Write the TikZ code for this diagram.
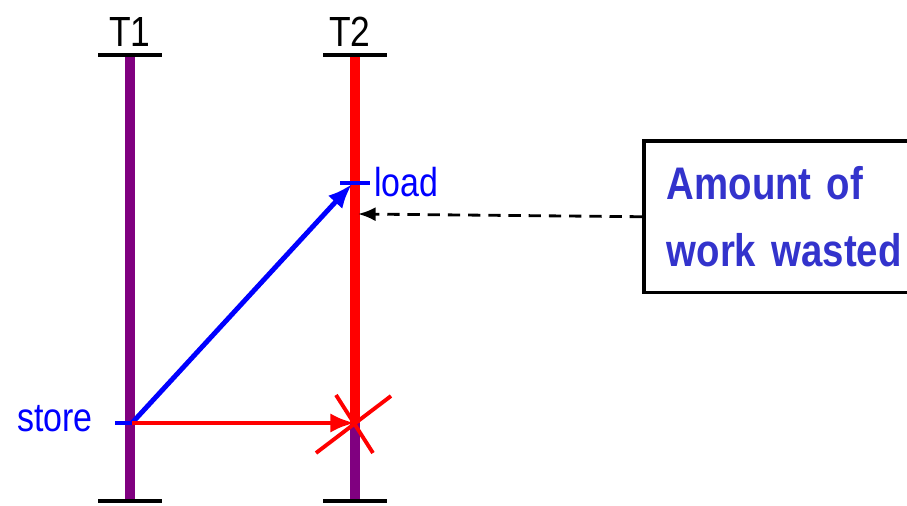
\documentclass[tikz,border=0pt]{standalone}
\usepackage{fontspec}
\setmainfont[FakeStretch=0.84]{Liberation Sans}
\usetikzlibrary{arrows.meta}
\definecolor{thrpurple}{HTML}{800080}
\definecolor{boxblue}{HTML}{3333CC}

\begin{document}
\begin{tikzpicture}[x=0.02cm,y=-0.02cm,>={Latex[length=14pt,width=11pt]},
  thread/.style={line width=5.4pt},
  bar/.style={line width=2.4pt,black},
  lbl/.style={font=\fontsize{23}{26}\selectfont,inner sep=0pt}]
  \useasboundingbox (0,0) rectangle (907,506);
  % threads
  \coordinate (t1top) at (130,55);  \coordinate (t1bot) at (130,501);
  \coordinate (t2top) at (355,55);  \coordinate (t2bot) at (355,501);
  \coordinate (t2cut) at (355,423);
  \draw[thread,thrpurple] (t1top) -- (t1bot);
  \draw[thread,thrpurple] (t2cut) -- (t2bot);
  \draw[thread,red] (t2top) -- (t2cut);
  \foreach \p in {t1top,t1bot,t2top,t2bot} \draw[bar] ([xshift=-0.64cm]\p) -- ([xshift=0.64cm]\p);
  \node[lbl,font=\fontsize{24}{28}\selectfont] (t1) at (130,32) {T1};
  \node[lbl,font=\fontsize{24}{28}\selectfont] (t2) at (350,32) {T2};
  % load / store
  \coordinate (ld) at (352,184);  \coordinate (st) at (132,423);
  \draw[blue,line width=2pt] (340,183) -- (370,183);
  \draw[blue,line width=2pt] (115,423) -- (st);
  \node[lbl,blue,anchor=west] (load) at (374,182) {load};
  \node[lbl,blue,anchor=east] (store) at (93,419) {store};
  \draw[->,blue,line width=2.8pt] (st) -- (ld);
  \draw[->,red,line width=2.8pt] (st) -- (t2cut);
  % abort
  \draw[red,line width=2.2pt] (t2cut) ++(-39,30) -- ++(75,-57);
  \draw[red,line width=2.2pt] (t2cut) ++(-19,-28) -- ++(37,58);
  % annotation
  \node[draw,line width=2pt,anchor=north west,minimum height=3.04cm,
    text width=4.8cm,align=left,inner xsep=0.46cm,inner ysep=0pt,text=boxblue,
    font=\bfseries\fontsize{26}{38}\selectfont] (box) at (642,139) {Amount of\\work wasted};
  \coordinate (hit) at (358,214);
  \draw[->,>={Latex[length=10pt,width=8pt]},line width=1.6pt,dash pattern=on 7pt off 4.5pt] (box.west) -- (hit);
\end{tikzpicture}
\end{document}
